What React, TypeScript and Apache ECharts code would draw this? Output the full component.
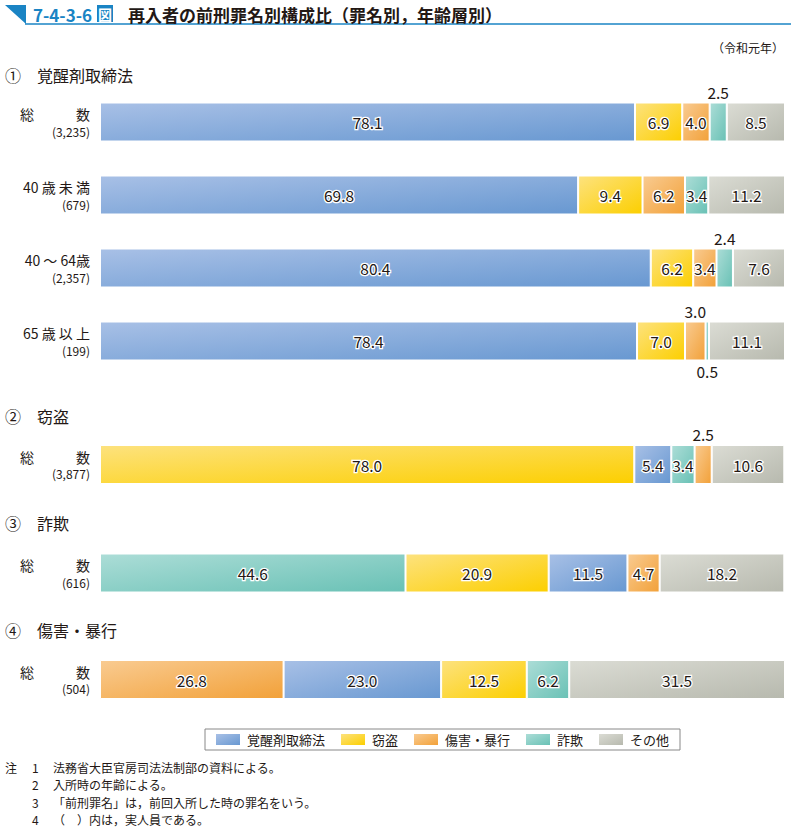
import React, { useEffect, useRef } from 'react';
import * as echarts from 'echarts';

const FONT = '"Noto Sans CJK JP", "Noto Sans", sans-serif';

// crime categories (legend order)
const crimeNames = ['覚醒剤取締法', '窃盗', '傷害・暴行', '詐欺', 'その他'];
const crimeLight = ['#a8c0e6', '#fde27e', '#f9cb91', '#acddd7', '#dbdcd4'];
const crimeDark = ['#6898d1', '#fccf00', '#f2a139', '#69c1b5', '#b7b9ae'];

// group titles
const groupMarks = ['①', '②', '③', '④'];
const groupTitles = ['覚醒剤取締法', '窃盗', '詐欺', '傷害・暴行'];

// ① 覚醒剤取締法 rows
const g1Rows = ['総　　　数', '40 歳 未 満', '40 ～ 64歳', '65 歳 以 上'];
const g1Counts = ['3,235', '679', '2,357', '199'];
// values per row, in crimeNames order
const g1Total = [78.1, 6.9, 4.0, 2.5, 8.5];
const g1Under40 = [69.8, 9.4, 6.2, 3.4, 11.2];
const g1Age40to64 = [80.4, 6.2, 3.4, 2.4, 7.6];
const g1Age65 = [78.4, 7.0, 3.0, 0.5, 11.1];

// ② 窃盗
const g2Counts = ['3,877'];
const g2Total = [5.4, 78.0, 2.5, 3.4, 10.6];
// ③ 詐欺
const g3Counts = ['616'];
const g3Total = [11.5, 20.9, 4.7, 44.6, 18.2];
// ④ 傷害・暴行
const g4Counts = ['504'];
const g4Total = [23.0, 12.5, 26.8, 6.2, 31.5];

// stacking order of crimes within each group (left to right)
const stackOrders = [
  [0, 1, 2, 3, 4],
  [1, 0, 3, 2, 4],
  [3, 1, 0, 2, 4],
  [2, 0, 1, 3, 4],
];

const noteLines = [
  ['注', '1', '法務省大臣官房司法法制部の資料による。'],
  ['', '2', '入所時の年齢による。'],
  ['', '3', '「前刑罪名」は，前回入所した時の罪名をいう。'],
  ['', '4', '（　）内は，実人員である。'],
];

const groups = [
  { rows: g1Rows, counts: g1Counts, values: [g1Total, g1Under40, g1Age40to64, g1Age65], top: 85.5 },
  { rows: ['総　　　数'], counts: g2Counts, values: [g2Total], top: 428 },
  { rows: ['総　　　数'], counts: g3Counts, values: [g3Total], top: 536.5 },
  { rows: ['総　　　数'], counts: g4Counts, values: [g4Total], top: 643 },
];

const ROW_H = 73;

function grad(c: number) {
  return new echarts.graphic.LinearGradient(0, 0, 1, 1, [
    { offset: 0, color: crimeLight[c] },
    { offset: 1, color: crimeDark[c] },
  ]);
}

function buildOption() {
  const grid: any[] = [];
  const xAxis: any[] = [];
  const yAxis: any[] = [];
  const series: any[] = [];

  groups.forEach((g, gi) => {
    grid.push({ left: 100, right: 6, top: g.top, height: ROW_H * g.rows.length });
    xAxis.push({
      gridIndex: gi, type: 'value', min: 0, max: 100, show: false,
    });
    yAxis.push({
      gridIndex: gi,
      type: 'category',
      inverse: true,
      data: g.rows,
      axisLine: { show: false },
      axisTick: { show: false },
      axisLabel: {
        margin: 10,
        formatter: (v: string, i: number) => `{a|${v}}\n{b|(${g.counts[i]})}`,
        rich: {
          a: { fontFamily: FONT, fontSize: 14, color: '#231815', lineHeight: 18, align: 'right' },
          b: { fontFamily: FONT, fontSize: 12, color: '#231815', lineHeight: 16, align: 'right' },
        },
      },
    });
    for (let s = 0; s < 5; s++) {
      const c = stackOrders[gi][s];
      series.push({
        type: 'bar',
        xAxisIndex: gi,
        yAxisIndex: gi,
        stack: 'g' + gi,
        barWidth: 39,
        data: g.values.map((row) => {
          const v = row[c];
          const small = v <= 3.0;
          return {
            value: v,
            itemStyle: { color: grad(c), borderColor: '#ffffff', borderWidth: 1 },
            label: small
              ? {
                  show: true,
                  position: v < 1 ? 'bottom' : 'top',
                  distance: 3,
                  formatter: v.toFixed(1),
                  fontFamily: FONT,
                  fontSize: 15.5,
                  color: '#231815',
                }
              : {
                  show: true,
                  position: 'inside',
                  formatter: v.toFixed(1),
                  fontFamily: FONT,
                  fontSize: 15.5,
                  color: '#231815',
                  textBorderColor: '#ffffff',
                  textBorderWidth: 2.5,
                },
          };
        }),
      });
    }
  });

  // legend-only series
  crimeNames.forEach((n, c) => {
    series.push({
      type: 'bar', name: n, xAxisIndex: 3, yAxisIndex: 3, stack: 'g3', barWidth: 39,
      data: [], itemStyle: { color: grad(c) },
    });
  });

  const graphic: any[] = [
    { type: 'polygon', shape: { points: [[5, 5], [26, 5], [26, 24]] }, style: { fill: '#1a84c4' } },
    { type: 'line', shape: { x1: 25, y1: 24, x2: 791, y2: 24 }, style: { stroke: '#1a84c4', lineWidth: 1.5 } },
    { type: 'text', style: { text: '7-4-3-6', x: 33, y: 14, verticalAlign: 'middle', fill: '#1a84c4', font: `bold 17px ${FONT}` } },
    { type: 'rect', shape: { x: 97, y: 5, width: 16, height: 17 }, style: { fill: '#1a84c4' } },
    { type: 'text', style: { text: '図', x: 105, y: 14, align: 'center', verticalAlign: 'middle', fill: '#ffffff', font: `bold 14px ${FONT}` } },
    { type: 'text', style: { text: '再入者の前刑罪名別構成比（罪名別，年齢層別）', x: 128, y: 14, verticalAlign: 'middle', fill: '#231815', font: `bold 17px ${FONT}` } },
    { type: 'text', style: { text: '（令和元年）', x: 784, y: 47, align: 'right', verticalAlign: 'middle', fill: '#231815', font: `12px ${FONT}` } },
  ];
  const titleYs = [75, 416, 523, 630];
  groupMarks.forEach((m, i) => {
    graphic.push({ type: 'text', style: { text: m, x: 5, y: titleYs[i], verticalAlign: 'middle', fill: '#231815', font: `16px ${FONT}` } });
    graphic.push({ type: 'text', style: { text: groupTitles[i], x: 37, y: titleYs[i], verticalAlign: 'middle', fill: '#231815', font: `16px ${FONT}` } });
  });
  const noteYs = [767, 784.5, 802, 819.5];
  noteLines.forEach((l, i) => {
    if (l[0]) graphic.push({ type: 'text', style: { text: l[0], x: 5, y: noteYs[i], verticalAlign: 'middle', fill: '#231815', font: `12px ${FONT}` } });
    graphic.push({ type: 'text', style: { text: l[1], x: 32, y: noteYs[i], verticalAlign: 'middle', fill: '#231815', font: `12px ${FONT}` } });
    graphic.push({ type: 'text', style: { text: l[2], x: 53, y: noteYs[i], verticalAlign: 'middle', fill: '#231815', font: `12px ${FONT}` } });
  });

  return {
    animation: false,
    backgroundColor: '#ffffff',
    textStyle: { fontFamily: FONT },
    grid,
    xAxis,
    yAxis,
    series,
    legend: {
      data: crimeNames.map((n) => ({ name: n, icon: 'rect' })),
      left: 205,
      top: 729,
      padding: [4, 11, 4, 11],
      itemGap: 16,
      itemWidth: 24,
      itemHeight: 11,
      borderColor: '#888888',
      borderWidth: 1,
      selectedMode: false,
      textStyle: { fontFamily: FONT, fontSize: 13, color: '#231815', padding: [0, 0, 0, 2] },
    },
    graphic,
  };
}

export default function App() {
  const ref = useRef<HTMLDivElement>(null);
  useEffect(() => {
    if (!ref.current) return;
    const chart = echarts.init(ref.current, undefined, { renderer: 'svg' });
    chart.setOption(buildOption() as any);
    return () => chart.dispose();
  }, []);
  return <div ref={ref} style={{ position: 'absolute', left: 0, top: 0, width: 791, height: 830 }} />;
}
